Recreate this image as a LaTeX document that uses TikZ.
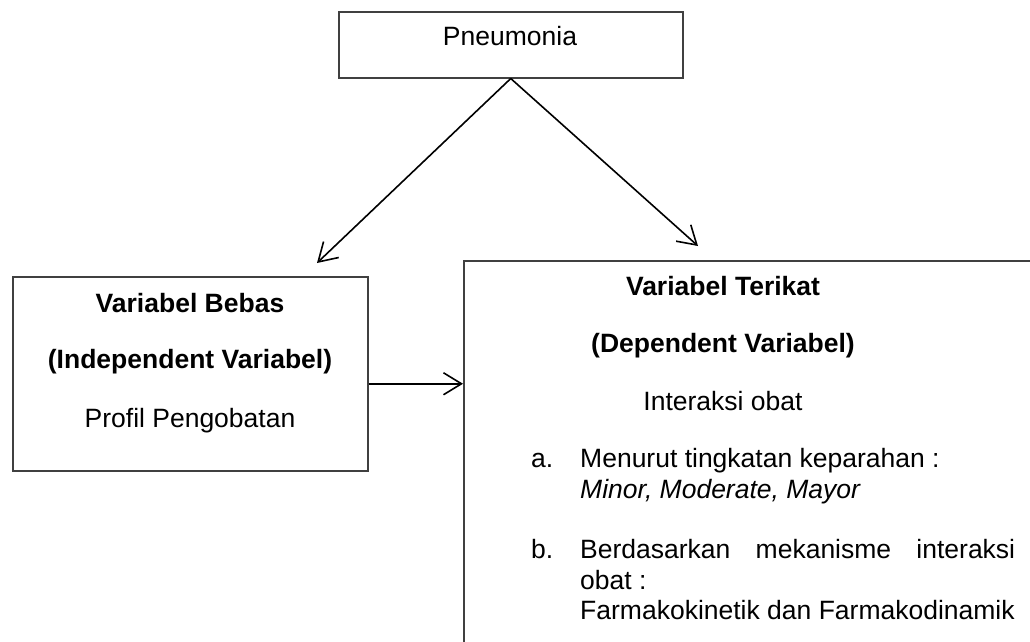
\documentclass[tikz,border=0pt]{standalone}
\usepackage{fontspec}
\setmainfont{Liberation Sans}
\usetikzlibrary{positioning,arrows.meta}

\begin{document}
\begin{tikzpicture}[x=1pt,y=-1pt]
  \tikzstyle{every node}=[font=\fontsize{26.5}{30.5}\selectfont, inner sep=0pt]
  \tikzstyle{kotak}=[draw=black!75, line width=1.5pt, anchor=north west]
  \tikzstyle{panah}=[-{Straight Barb[length=18pt,width=22pt]}, line width=1.6pt]
  \useasboundingbox (0,0) rectangle (1030,641);

  % kotak
  \node[kotak, minimum width=344pt, minimum height=66pt] (pneumonia) at (338,11) {};
  \node[kotak, minimum width=355pt, minimum height=194pt] (bebas) at (12,276) {};
  \node[kotak, minimum width=640pt, minimum height=420pt] (terikat) at (463,260) {};

  % teks
  \node[anchor=base] (tpneumonia) at (510,45) {Pneumonia};

  \node[anchor=base] (tbebas1) at (190,312) {\textbf{Variabel Bebas}};
  \node[anchor=base] (tbebas2) at (190,368) {\textbf{(Independent Variabel)}};
  \node[anchor=base] (tbebas3) at (190,427) {Profil Pengobatan};

  \node[anchor=base] (tterikat1) at (723,295) {\textbf{Variabel Terikat}};
  \node[anchor=base] (tterikat2) at (723,352) {\textbf{(Dependent Variabel)}};
  \node[anchor=base] (tterikat3) at (723,410) {Interaksi obat};

  \node[anchor=base west] (la) at (531,467) {a.};
  \node[anchor=base west] (a1) at (580,467) {Menurut tingkatan keparahan :};
  \node[anchor=base west] (a2) at (580,498) {\textit{Minor, Moderate, Mayor}};
  \node[anchor=base west] (lb) at (531,558) {b.};
  \node[anchor=base west] (b1) at (580,558) {\makebox[435pt][s]{Berdasarkan mekanisme interaksi}};
  \node[anchor=base west] (b2) at (580,589) {obat :};
  \node[anchor=base west] (b3) at (580,619) {Farmakokinetik dan Farmakodinamik};

  % panah
  \coordinate (ujungbebas) at (317,263);
  \coordinate (ujungterikat) at (698,246);
  \draw[panah] (pneumonia.south) -- (ujungbebas);
  \draw[panah] (pneumonia.south) -- (ujungterikat);
  \draw[panah] ([yshift=-10pt]bebas.east) -- ([yshift=-10pt]bebas.east -| terikat.west);
\end{tikzpicture}
\end{document}
